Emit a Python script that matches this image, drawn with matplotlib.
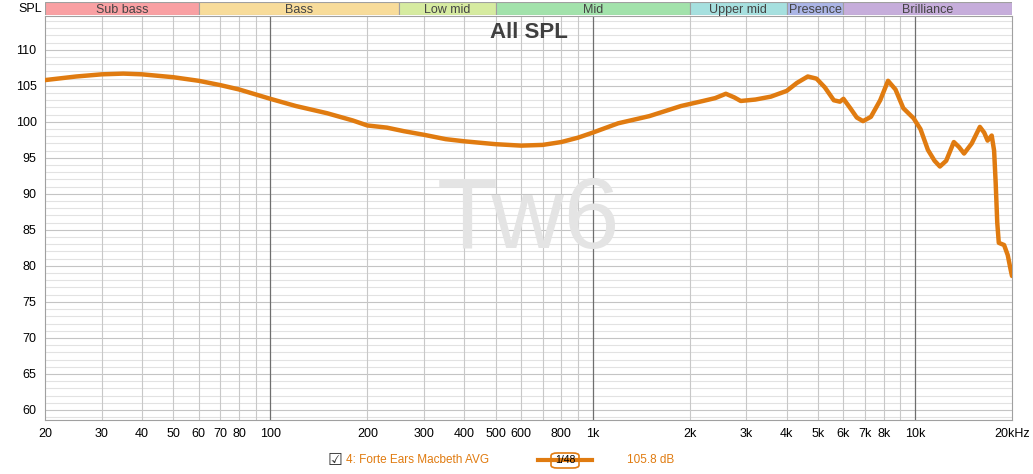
import matplotlib
matplotlib.use("Agg")
import matplotlib.pyplot as plt
from matplotlib.patches import FancyBboxPatch

# frequency response
freq_hz = [20, 25, 30, 35, 40, 50, 60, 70, 80, 100, 120, 150, 180, 200, 230,
           260, 300, 350, 400, 500, 600, 700, 800, 900, 1000, 1200, 1500,
           1880, 2200, 2400, 2590, 2750, 2880, 3200, 3570, 4000, 4300, 4650,
           4950, 5250, 5600, 5850, 6000, 6300, 6600, 6900, 7300, 7800, 8250,
           8700, 9200, 9900, 10400, 10970, 11500, 11950, 12500, 13200, 13700,
           14200, 15000, 15900, 16400, 16800, 17300, 17600, 17800, 18000,
           18200, 18900, 19400, 19800, 20000]
spl_db = [105.8, 106.3, 106.6, 106.7, 106.6, 106.2, 105.7, 105.1, 104.5, 103.2,
          102.2, 101.2, 100.2, 99.5, 99.2, 98.7, 98.2, 97.6, 97.3, 96.9, 96.7,
          96.8, 97.2, 97.8, 98.5, 99.8, 100.8, 102.2, 102.9, 103.3, 103.9,
          103.4, 102.9, 103.1, 103.5, 104.3, 105.4, 106.3, 106.0, 104.8,
          103.0, 102.8, 103.2, 101.9, 100.6, 100.1, 100.7, 103.0, 105.7,
          104.5, 101.9, 100.5, 99.0, 96.1, 94.6, 93.8, 94.6, 97.2, 96.5,
          95.6, 97.0, 99.3, 98.5, 97.4, 98.1, 96.0, 91.5, 86.0, 83.2, 82.9,
          81.5, 79.5, 78.6]

bands = ["Sub bass", "Bass", "Low mid", "Mid", "Upper mid", "Presence", "Brilliance"]
band_edges = [20, 60, 250, 500, 2000, 4000, 6000, 20000]
band_colors = ["#f9a0a3", "#f8dc9a", "#d6eba0", "#a2e2ab", "#a6e0df", "#abb5e6", "#c6addb"]

xticks = [20, 30, 40, 50, 60, 70, 80, 100, 200, 300, 400, 500, 600, 800, 1000,
          2000, 3000, 4000, 5000, 6000, 7000, 8000, 10000, 20000]
xlabels = ["20", "30", "40", "50", "60", "70", "80", "100", "200", "300", "400",
           "500", "600", "800", "1k", "2k", "3k", "4k", "5k", "6k", "7k", "8k",
           "10k", "20kHz"]
yticks = list(range(60, 115, 5))

W, H = 1033, 474
fig = plt.figure(figsize=(W / 100, H / 100), dpi=100)
fig.patch.set_facecolor("white")
plt.rcParams["font.family"] = ["Liberation Sans", "DejaVu Sans"]

x0, x1, y0, y1 = 45, 1012, 16, 420
ax = fig.add_axes([x0 / W, 1 - y1 / H, (x1 - x0) / W, (y1 - y0) / H])
ax.set_xscale("log")
ax.set_xlim(20, 20000)
ax.set_ylim(58.6, 114.7)

# grid
for v in range(59, 115):
    ax.axhline(v, color="#e2e2e2" if v % 5 else "#c4c4c4", lw=0.8, zorder=0)
minor = [f * m for f in (10, 100, 1000, 10000) for m in range(2, 10)]
for f in minor:
    if 20 < f < 20000:
        ax.axvline(f, color="#c8c8c8", lw=0.8, zorder=0)
for f in (100, 1000, 10000):
    ax.axvline(f, color="#6e6e6e", lw=0.9, zorder=0)

ax.plot(freq_hz, spl_db, color="#e07b10", lw=3.2, solid_capstyle="round",
        solid_joinstyle="round", zorder=3)

ax.set_xticks(xticks)
ax.set_xticklabels(xlabels)
ax.set_xticks([], minor=True)
ax.set_yticks(yticks)
ax.tick_params(length=0, labelsize=9, pad=6)
for s in ax.spines.values():
    s.set_color("#a0a0a0")

ax.text(0.5, 0.985, "All SPL", transform=ax.transAxes, ha="center", va="top",
        fontsize=16, fontweight="bold", color="#404040", zorder=4)
ax.text(0.5, 0.49, "Tw6", transform=ax.transAxes, ha="center", va="center",
        fontsize=72, color="#e4e4e4", zorder=1)
fig.text(30 / W, 1 - 9 / H, "SPL", ha="center", va="center", fontsize=9)

# band strip
bx = fig.add_axes([x0 / W, 1 - 15 / H, (x1 - x0) / W, 13 / H])
bx.set_xscale("log")
bx.set_xlim(20, 20000)
bx.set_ylim(0, 1)
bx.axis("off")
for i, name in enumerate(bands):
    lo, hi = band_edges[i], band_edges[i + 1]
    bx.axvspan(lo, hi, color=band_colors[i], ec="#a0a0a0", lw=0.8)
    bx.text((lo * hi) ** 0.5, 0.5, name, ha="center", va="center_baseline",
            fontsize=9, color="#444444")

# legend row
fig.text(335 / W, 1 - 460 / H, "\u2611", ha="center", va="center", fontsize=12,
         family=["DejaVu Sans"], color="#333333")
fig.text(346 / W, 1 - 460 / H, "4: Forte Ears Macbeth AVG", ha="left", va="center",
         fontsize=8.5, color="#e07b10")
fig.add_artist(plt.Line2D([538 / W, 592 / W], [1 - 460 / H] * 2, color="#e07b10", lw=3))
fig.add_artist(FancyBboxPatch((551 / W, 1 - 468 / H), 28 / W, 15 / H,
                              boxstyle="round,pad=0,rounding_size=0.006",
                              fc="white", ec="#e07b10", lw=1.2))
fig.text(565 / W, 1 - 460 / H, "1/48", ha="center", va="center", fontsize=7.5)
fig.text(627 / W, 1 - 460 / H, "105.8 dB", ha="left", va="center",
         fontsize=8.5, color="#e07b10")

fig.savefig("out.png", dpi=100)
